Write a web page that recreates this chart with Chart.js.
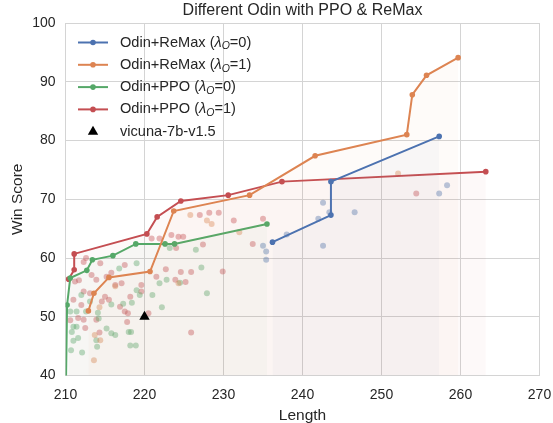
<!DOCTYPE html>
<html>
<head>
<meta charset="utf-8">
<script src="https://cdn.jsdelivr.net/npm/chart.js@4.4.0/dist/chart.umd.min.js"></script>
<style>
  html, body { margin: 0; padding: 0; background: #fff; }
</style>
</head>
<body>
<canvas id="myChart" width="553" height="423"></canvas>
<script>
const xTicks = [210, 220, 230, 240, 250, 260, 270];
const yTicks = [40, 50, 60, 70, 80, 90, 100];

const seriesNames = ['Odin+ReMax', 'Odin+ReMax', 'Odin+PPO', 'Odin+PPO'];
const lambdaValues = [0, 1, 0, 1];
const baselineName = 'vicuna-7b-v1.5';

// frontier lines, [length, win score]
const remaxL0 = [[236.2, 62.7], [243.6, 67.3], [243.6, 73.0], [257.3, 80.7]];
const remaxL1 = [[212.9, 51.0], [213.6, 54.0], [215.5, 56.7], [220.7, 57.7], [223.7, 68.0],
  [233.3, 70.7], [241.6, 77.4], [253.2, 81.0], [253.9, 87.8], [255.7, 91.1], [259.7, 94.1]];
const ppoL0 = [[210.05, 38.0], [210.2, 52.0], [210.6, 56.6], [212.7, 57.9], [213.4, 59.7],
  [216.0, 60.4], [218.9, 62.4], [222.6, 62.4], [223.8, 62.4], [235.5, 65.8]];
const ppoL1 = [[210.4, 56.4], [211.1, 58.0], [211.1, 60.7], [220.3, 64.1], [221.6, 67.0],
  [224.6, 69.7], [230.6, 70.7], [237.4, 73.0], [263.2, 74.7]];

// all runs (scatter)
const remaxL0Runs = [[235.0, 62.1], [235.4, 61.1], [235.4, 59.7], [238.0, 64.0], [242.0, 66.7],
  [242.6, 69.4], [243.4, 67.8], [246.6, 67.8], [242.6, 62.1], [257.3, 71.0], [258.3, 72.4]];
const remaxL1Runs = [[225.8, 67.3], [227.9, 66.4], [228.5, 65.8], [232.0, 64.4], [224.3, 55.7],
  [252.1, 74.4], [213.7, 46.9], [214.4, 46.0], [213.6, 42.6], [214.3, 51.6], [216.3, 55.2]];
const ppoL0Runs = [[219.0, 59.1], [216.8, 58.2], [219.0, 54.5], [219.4, 53.7], [221.0, 53.7],
  [222.2, 51.6], [222.8, 56.3], [221.9, 55.7], [223.2, 61.7], [226.5, 61.4], [227.2, 58.4],
  [227.9, 54.0], [215.8, 52.1], [217.3, 52.2], [218.4, 52.4], [214.1, 50.7], [214.2, 49.7],
  [215.2, 48.0], [215.8, 47.2], [216.3, 46.9], [218.0, 47.4], [218.3, 47.4], [218.2, 45.1],
  [218.9, 45.1], [213.9, 46.0], [214.0, 44.9], [210.7, 44.3], [212.1, 43.9], [211.6, 46.4],
  [211.0, 48.3], [211.4, 48.3], [210.8, 47.4], [211.0, 45.9], [211.4, 50.9], [210.6, 50.9],
  [212.0, 53.7], [213.1, 52.6], [212.6, 50.9], [224.5, 55.8]];
const ppoL1Runs = [[212.6, 60.0], [212.3, 59.3], [214.4, 59.1], [211.2, 56.0], [211.7, 56.2],
  [213.3, 57.1], [213.9, 56.3], [215.2, 56.8], [215.8, 57.5], [216.3, 55.4], [217.1, 55.7],
  [217.5, 58.8], [212.3, 54.3], [213.1, 54.0], [214.6, 52.6], [215.0, 53.4], [215.5, 52.9],
  [216.9, 51.7], [217.5, 50.9], [217.9, 50.6], [218.2, 53.4], [217.8, 49.1], [211.0, 52.9],
  [212.0, 52.0], [210.6, 49.4], [211.6, 49.8], [212.3, 49.5], [212.5, 48.1], [213.9, 49.5],
  [214.3, 47.3], [219.6, 55.4], [219.6, 54.3], [220.5, 50.6], [221.5, 56.8], [222.7, 58.1],
  [223.9, 56.3], [224.6, 57.6], [225.2, 55.9], [225.9, 57.6], [227.4, 62.3], [224.0, 61.7],
  [229.9, 57.7], [225.9, 47.3], [223.4, 63.9], [224.3, 63.6], [224.9, 63.6], [220.9, 63.3],
  [221.9, 63.3], [227.0, 67.3], [228.2, 67.7], [229.4, 67.7], [231.3, 66.4], [233.7, 62.4],
  [235.0, 66.7], [254.4, 71.0]];

const vicuna = [[220.0, 50.0]];

const colors = ['76,114,176', '221,132,82', '85,168,104', '196,78,82'];
const FONT = "'Liberation Sans', Arial, sans-serif";
const TEXT = '#262626';
const GRID = '#d4d4d4';

const toXY = (arr) => arr.map(p => ({ x: p[0], y: p[1] }));

function frontier(data, i) {
  return {
    type: 'line',
    data: toXY(data),
    borderColor: `rgb(${colors[i]})`,
    backgroundColor: `rgba(${colors[i]},0.035)`,
    pointBackgroundColor: `rgb(${colors[i]})`,
    pointBorderColor: `rgb(${colors[i]})`,
    pointRadius: 2.8,
    pointBorderWidth: 0,
    borderWidth: 2,
    tension: 0,
    fill: 'start',
    clip: 0,
    order: 1,
  };
}

function runs(data, i) {
  return {
    type: 'scatter',
    data: toXY(data),
    backgroundColor: `rgba(${colors[i]},0.4)`,
    borderWidth: 0,
    pointRadius: 3,
    order: 2,
  };
}

// title and axis titles
const textPlugin = {
  id: 'labels',
  afterDraw(chart) {
    const { ctx, chartArea } = chart;
    const cx = (chartArea.left + chartArea.right) / 2;
    const cy = (chartArea.top + chartArea.bottom) / 2;
    ctx.save();
    ctx.fillStyle = TEXT;
    ctx.textAlign = 'center';
    ctx.textBaseline = 'middle';
    ctx.font = `16px ${FONT}`;
    ctx.fillText('Different Odin with PPO & ReMax', cx, 11);
    ctx.font = `15.5px ${FONT}`;
    ctx.fillText('Length', cx, 416);
    ctx.translate(17.5, cy);
    ctx.rotate(-Math.PI / 2);
    ctx.fillText('Win Score', 0, 0);
    ctx.restore();
  },
};

const legendPlugin = {
  id: 'innerLegend',
  afterDraw(chart) {
    const { ctx } = chart;
    const x0 = 78, x1 = 108, tx = 120, rowY = [42.5, 64.8, 87.1, 109.4, 131.7];
    const fs = 14.6;
    ctx.save();
    ctx.textBaseline = 'middle';
    ctx.textAlign = 'left';
    seriesNames.forEach((name, i) => {
      const y = rowY[i];
      ctx.strokeStyle = `rgb(${colors[i]})`;
      ctx.lineWidth = 2;
      ctx.beginPath();
      ctx.moveTo(x0, y);
      ctx.lineTo(x1, y);
      ctx.stroke();
      ctx.fillStyle = `rgb(${colors[i]})`;
      ctx.beginPath();
      ctx.arc((x0 + x1) / 2, y, 2.8, 0, Math.PI * 2);
      ctx.fill();

      ctx.fillStyle = TEXT;
      let x = tx;
      ctx.font = `${fs}px ${FONT}`;
      const a = name + ' (';
      ctx.fillText(a, x, y);
      x += ctx.measureText(a).width;
      ctx.font = `italic ${fs}px ${FONT}`;
      ctx.fillText('λ', x, y);
      x += ctx.measureText('λ').width;
      ctx.font = `italic ${fs * 0.72}px ${FONT}`;
      ctx.fillText('O', x, y + 4);
      x += ctx.measureText('O').width;
      ctx.font = `${fs}px ${FONT}`;
      ctx.fillText('=' + lambdaValues[i] + ')', x, y);
    });
    // baseline entry
    const y = rowY[4];
    const cx = (x0 + x1) / 2, r = 6;
    ctx.fillStyle = '#000';
    ctx.beginPath();
    ctx.moveTo(cx, y - r);
    ctx.lineTo(cx + r * 0.866, y + r * 0.5);
    ctx.lineTo(cx - r * 0.866, y + r * 0.5);
    ctx.closePath();
    ctx.fill();
    ctx.fillStyle = TEXT;
    ctx.font = `${fs}px ${FONT}`;
    ctx.fillText(baselineName, tx, y);
    ctx.restore();
  },
};

new Chart(document.getElementById('myChart'), {
  type: 'scatter',
  data: {
    datasets: [
      frontier(remaxL0, 0),
      frontier(remaxL1, 1),
      frontier(ppoL0, 2),
      frontier(ppoL1, 3),
      runs(remaxL0Runs, 0),
      runs(remaxL1Runs, 1),
      runs(ppoL0Runs, 2),
      runs(ppoL1Runs, 3),
      {
        type: 'scatter',
        data: toXY(vicuna),
        pointStyle: 'triangle',
        pointRadius: 6,
        backgroundColor: '#000',
        borderColor: '#000',
        borderWidth: 0,
        order: 0,
      },
    ],
  },
  options: {
    responsive: false,
    animation: false,
    devicePixelRatio: 1,
    layout: { padding: { top: 23, right: 13.5, left: 0, bottom: 0 } },
    plugins: {
      legend: { display: false },
      title: { display: false },
      tooltip: { enabled: false },
    },
    scales: {
      x: {
        type: 'linear',
        min: xTicks[0],
        max: xTicks[xTicks.length - 1],
        afterBuildTicks: (scale) => { scale.ticks = xTicks.map(v => ({ value: v })); },
        afterFit: (scale) => { scale.height = 47.5; scale.paddingLeft = 0; scale.paddingRight = 0; },
        ticks: { color: TEXT, font: { family: FONT, size: 14 }, padding: 11 },
        grid: { color: GRID, lineWidth: 1, drawTicks: false },
        border: { color: GRID, width: 1 },
      },
      y: {
        type: 'linear',
        min: yTicks[0],
        max: yTicks[yTicks.length - 1],
        afterBuildTicks: (scale) => { scale.ticks = yTicks.map(v => ({ value: v })); },
        afterFit: (scale) => { scale.width = 65.5; scale.paddingTop = 0; scale.paddingBottom = 0; },
        ticks: { color: TEXT, font: { family: FONT, size: 14 }, padding: 10 },
        grid: { color: GRID, lineWidth: 1, drawTicks: false },
        border: { color: GRID, width: 1 },
      },
    },
  },
  plugins: [textPlugin, legendPlugin],
});
</script>
</body>
</html>
